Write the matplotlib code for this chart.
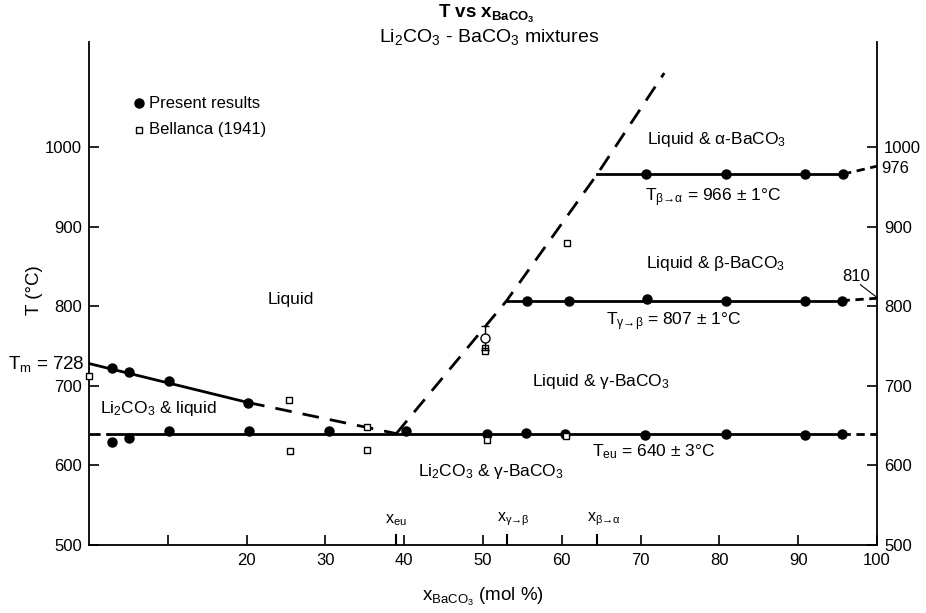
import matplotlib
matplotlib.use('Agg')
import matplotlib.pyplot as plt

plt.rcParams['font.family'] = ['Liberation Sans', 'DejaVu Sans']
plt.rcParams['mathtext.default'] = 'regular'

# invariant temperatures and compositions
T_m, T_eu, T_gb, T_ba = 728, 640, 807, 966
T_ba_pure, T_gb_pure = 976, 810
x_eu, x_gb, x_ba = 39.0, 53.0, 64.5

# present results (filled circles)
liq_x = [2.9, 5.1, 10.1, 20.2]
liq_T = [722, 717, 706, 679]
eu_x = [2.9, 5.1, 10.1, 20.3, 30.4, 40.2, 50.5, 55.5, 60.4, 70.6, 80.8, 90.8, 95.6]
eu_T = [629, 634, 643, 643, 643, 643, 639, 641, 640, 638, 640, 638, 640]
gb_x = [55.6, 60.9, 70.8, 80.9, 90.8, 95.5]
gb_T = [807, 807, 809, 807, 807, 807]
ba_x = [70.7, 80.9, 90.8, 95.7]
ba_T = [966, 966, 966, 966]
open_x, open_T, open_err = [50.3], [760], [15]

# Bellanca (1941) (open squares)
bel_x = [0.0, 25.4, 35.3, 25.5, 35.3, 50.5, 60.5, 60.6, 50.3, 50.3]
bel_T = [712, 682, 648, 618, 619, 632, 637, 879, 748, 744]

# liquidus curves
liqA_x, liqA_T = [0, 20.2], [T_m, 679]
liqA_dash_x, liqA_dash_T = [20.2, x_eu], [679, T_eu]
liqB_x = [x_eu, x_gb, x_ba, 73.0]
liqB_T = [T_eu, T_gb, T_ba, 1093]

xticks = [10, 20, 30, 40, 50, 60, 70, 80, 90, 100]
xticklabels = ['', '20', '30', '40', '50', '60', '70', '80', '90', '100']
yticks = [500, 600, 700, 800, 900, 1000]

fig = plt.figure(figsize=(9.26, 6.13), dpi=100)
ax = fig.add_axes([89/926, 1-545/613, (877-89)/926, (545-42)/613])
ax.set_xlim(0, 100)
ax.set_ylim(500, 1132)

lw = 2.0
dash = (0, (6, 4))
ax.plot(liqA_x, liqA_T, color='black', lw=lw)
ax.plot(liqA_dash_x, liqA_dash_T, color='black', lw=lw, linestyle=dash)
ax.plot(liqB_x, liqB_T, color='black', lw=lw, linestyle=dash)

# horizontal invariant lines
ax.plot([0, 2.4], [T_eu, T_eu], color='black', lw=lw, linestyle=(0, (4, 2, 1, 2)))
ax.plot([2.4, 95.6], [T_eu, T_eu], color='black', lw=lw)
ax.plot([95.6, 100], [T_eu, T_eu], color='black', lw=lw, linestyle=(0, (3, 2)))
ax.plot([x_gb, 95.5], [T_gb, T_gb], color='black', lw=lw)
ax.plot([95.5, 100], [T_gb, T_gb_pure], color='black', lw=lw, linestyle=(0, (3, 2)))
ax.plot([x_ba, 95.7], [T_ba, T_ba], color='black', lw=lw)
ax.plot([95.7, 100], [T_ba, T_ba_pure], color='black', lw=lw, linestyle=(0, (3, 2)))

ms = 6.5
for xs, ts in [(liq_x, liq_T), (eu_x, eu_T), (gb_x, gb_T), (ba_x, ba_T)]:
    ax.plot(xs, ts, 'o', color='black', ms=ms, zorder=5)
ax.plot(bel_x, bel_T, 's', mfc='white', mec='black', ms=5, mew=1.0, zorder=6, clip_on=False)
ax.errorbar(open_x, open_T, yerr=open_err, fmt='o', mfc='white', mec='black',
            ecolor='black', ms=6.5, capsize=3, lw=1, zorder=6)

# legend
ax.plot([6.3], [1055], 'o', color='black', ms=ms)
ax.text(7.6, 1055, 'Present results', fontsize=12, va='center')
ax.plot([6.3], [1022], 's', mfc='white', mec='black', ms=5, mew=1.0)
ax.text(7.6, 1022, 'Bellanca (1941)', fontsize=12, va='center')

# region labels
fs = 12.5
ax.text(25.6, 808, 'Liquid', fontsize=fs, ha='center', va='center')
ax.text(8.8, 671, 'Li$_2$CO$_3$ & liquid', fontsize=fs, ha='center', va='center')
ax.text(51, 592, 'Li$_2$CO$_3$ & γ-BaCO$_3$', fontsize=fs, ha='center', va='center')
ax.text(64.9, 705, 'Liquid & γ-BaCO$_3$', fontsize=fs, ha='center', va='center')
ax.text(79.5, 854, 'Liquid & β-BaCO$_3$', fontsize=fs, ha='center', va='center')
ax.text(79.7, 1009, 'Liquid & α-BaCO$_3$', fontsize=fs, ha='center', va='center')
ax.text(79.2, 936, 'T$_{β→α}$ = 966 ± 1°C', fontsize=fs, ha='center', va='center')
ax.text(74.2, 780, 'T$_{γ→β}$ = 807 ± 1°C', fontsize=fs, ha='center', va='center')
ax.text(71.6, 617, 'T$_{eu}$ = 640 ± 3°C', fontsize=fs, ha='center', va='center')

ax.text(-0.6, 728, 'T$_m$ = 728', fontsize=13.5, ha='right', va='center')
ax.text(100.5, 973, '976', fontsize=12, ha='left', va='center')
ax.text(97.4, 837, '810', fontsize=12, ha='center', va='center')
ax.plot([97.9, 100], [827, 811], color='black', lw=0.8, clip_on=False)

# special composition ticks
for xv, lab in [(x_eu, 'x$_{eu}$'), (x_gb, 'x$_{γ→β}$'), (x_ba, 'x$_{β→α}$')]:
    ax.plot([xv, xv], [500, 513], color='black', lw=1.5)
    ax.text(xv + 0.8 if xv > 40 else xv, 521, lab, fontsize=11.5, ha='center', va='bottom')

ax.set_xticks(xticks)
ax.set_xticklabels(xticklabels)
ax.set_yticks(yticks)
ax.tick_params(axis='both', direction='in', length=7, width=1.2, labelsize=12)
ax.tick_params(axis='y', right=True, labelright=True, pad=5)
ax.tick_params(axis='x', pad=6)
ax.spines['top'].set_visible(False)
for s in ['left', 'right', 'bottom']:
    ax.spines[s].set_linewidth(1.3)

ax.set_xlabel('x$_{BaCO_3}$ (mol %)', fontsize=13.5)
ax.xaxis.set_label_coords(0.5, -0.082)
ax.set_ylabel('T (°C)', fontsize=13.5)
ax.yaxis.set_label_coords(-0.058, 0.507)

fig.text(0.525, 0.977, 'T vs x$_{BaCO_3}$', fontsize=13.5, fontweight='bold', ha='center', va='center')
fig.text(0.528, 0.939, 'Li$_2$CO$_3$ - BaCO$_3$ mixtures', fontsize=14, ha='center', va='center')

fig.savefig('out.png', dpi=100)
